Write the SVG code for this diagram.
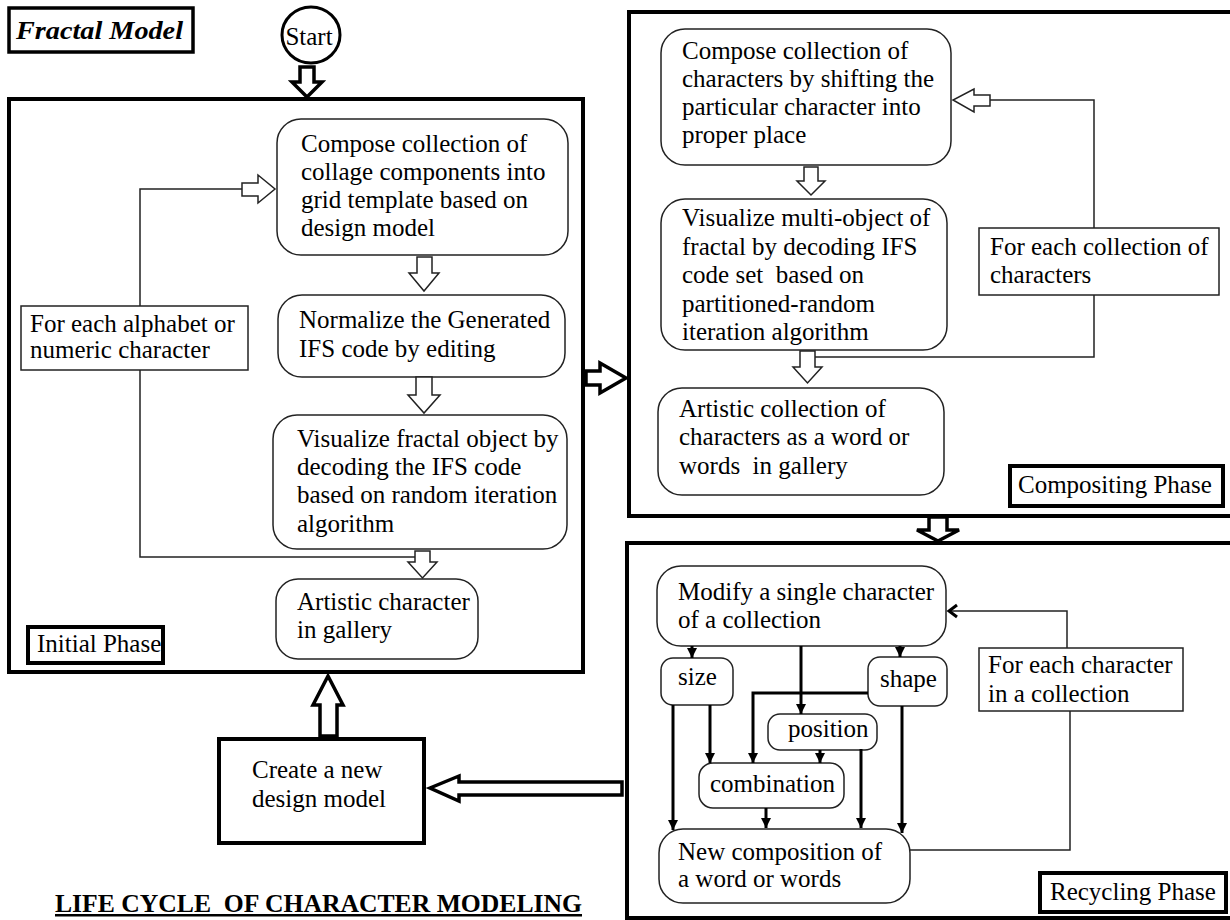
<svg xmlns="http://www.w3.org/2000/svg" width="1230" height="920" viewBox="0 0 1230 920">
<style>
  text { font-family: "Liberation Serif", "Times New Roman", serif; font-size: 25px; fill: #000; }
  .rb { fill: #fff; stroke: #222; stroke-width: 1.5; }
  .tb { fill: #fff; stroke: #222; stroke-width: 1.5; }
  .phase { fill: none; stroke: #000; stroke-width: 4; }
  .lbl { fill: #fff; stroke: #000; stroke-width: 4; }
  .thin { fill: none; stroke: #222; stroke-width: 1.5; }
  .thick { fill: none; stroke: #000; stroke-width: 3; }
  .hollow { fill: #fff; stroke: #222; stroke-width: 1.5; stroke-linejoin: miter; }
  .bighollow { fill: #fff; stroke: #000; stroke-width: 3.5; stroke-linejoin: miter; }
</style>
<defs>
  <marker id="ah" markerUnits="userSpaceOnUse" markerWidth="12" markerHeight="12" refX="10" refY="6" orient="auto">
    <path d="M0,1 L10,6 L0,11 z" fill="#000"/>
  </marker>
  <marker id="open" markerUnits="userSpaceOnUse" markerWidth="14" markerHeight="16" refX="11" refY="8" orient="auto">
    <path d="M3,2 L11,8 L3,14" fill="none" stroke="#000" stroke-width="3"/>
  </marker>
</defs>
<rect width="1230" height="920" fill="#fff"/>

<g id="title-fractal">
  <rect x="9" y="8" width="184" height="44" fill="#fff" stroke="#000" stroke-width="3.5"/>
  <text x="16" y="39" font-size="28" font-weight="bold" font-style="italic" textLength="167" lengthAdjust="spacingAndGlyphs">Fractal Model</text>
</g>

<g id="start">
  <ellipse cx="311" cy="35" rx="29" ry="28" fill="#fff" stroke="#000" stroke-width="3"/>
  <text x="309" y="45" text-anchor="middle">Start</text>
</g>

<g id="initial-phase">
  <rect class="phase" x="9" y="99" width="574" height="573"/>
</g>
<g id="initial-label">
  <rect class="lbl" x="28" y="627" width="135" height="36"/>
  <text x="37" y="652">Initial Phase</text>
</g>

<g id="compose-grid">
  <rect class="rb" x="277" y="119" width="291" height="136" rx="24"/>
  <text x="301" y="152">Compose collection of</text>
  <text x="301" y="180">collage components into</text>
  <text x="301" y="208">grid template based on</text>
  <text x="301" y="236">design model</text>
</g>
<g id="normalize">
  <rect class="rb" x="278" y="295" width="287" height="82" rx="24"/>
  <text x="299" y="328">Normalize the Generated</text>
  <text x="299" y="357">IFS code by editing</text>
</g>
<g id="visualize-fractal">
  <rect class="rb" x="273" y="415" width="294" height="134" rx="24"/>
  <text x="297" y="447">Visualize fractal object by</text>
  <text x="297" y="475">decoding the IFS code</text>
  <text x="297" y="503">based on random iteration</text>
  <text x="297" y="532">algorithm</text>
</g>
<g id="artistic-character">
  <rect class="rb" x="276" y="579" width="202" height="80" rx="22"/>
  <text x="297" y="610">Artistic character</text>
  <text x="297" y="638">in gallery</text>
</g>
<g id="for-each-alphabet">
  <rect class="tb" x="21" y="306" width="227" height="64"/>
  <text x="30" y="332">For each alphabet or</text>
  <text x="30" y="358">numeric character</text>
</g>

<g id="compositing-phase">
  <rect class="phase" x="629" y="12" width="610" height="504"/>
</g>
<g id="compositing-label">
  <rect class="lbl" x="1010" y="466" width="213" height="40"/>
  <text x="1018" y="493">Compositing Phase</text>
</g>
<g id="compose-characters">
  <rect class="rb" x="661" y="29" width="290" height="136" rx="24"/>
  <text x="682" y="59">Compose collection of</text>
  <text x="682" y="87">characters by shifting the</text>
  <text x="682" y="115">particular character into</text>
  <text x="682" y="143">proper place</text>
</g>
<g id="visualize-multi">
  <rect class="rb" x="661" y="199" width="286" height="151" rx="24"/>
  <text x="682" y="226">Visualize multi-object of</text>
  <text x="682" y="255">fractal by decoding IFS</text>
  <text x="682" y="283" xml:space="preserve">code set  based on</text>
  <text x="682" y="312">partitioned-random</text>
  <text x="682" y="340">iteration algorithm</text>
</g>
<g id="artistic-collection">
  <rect class="rb" x="658" y="388" width="286" height="107" rx="24"/>
  <text x="679" y="417">Artistic collection of</text>
  <text x="679" y="445">characters as a word or</text>
  <text x="679" y="474" xml:space="preserve">words  in gallery</text>
</g>
<g id="for-each-collection">
  <rect class="tb" x="979" y="228" width="240" height="67"/>
  <text x="990" y="255">For each collection of</text>
  <text x="990" y="283">characters</text>
</g>

<g id="recycling-phase">
  <rect class="phase" x="627" y="543" width="612" height="375"/>
</g>
<g id="recycling-label">
  <rect class="lbl" x="1040" y="873" width="186" height="39"/>
  <text x="1050" y="900">Recycling Phase</text>
</g>
<g id="modify">
  <rect class="rb" x="657" y="566" width="289" height="80" rx="24"/>
  <text x="678" y="600">Modify a single character</text>
  <text x="678" y="628">of a collection</text>
</g>
<g id="size">
  <rect class="rb" x="661" y="658" width="72" height="47" rx="12"/>
  <text x="678" y="685">size</text>
</g>
<g id="shape">
  <rect class="rb" x="868" y="657" width="79" height="49" rx="12"/>
  <text x="880" y="687">shape</text>
</g>
<g id="position">
  <rect class="rb" x="768" y="714" width="109" height="36" rx="12"/>
  <text x="788" y="737">position</text>
</g>
<g id="combination">
  <rect class="rb" x="699" y="763" width="145" height="45" rx="14"/>
  <text x="710" y="792">combination</text>
</g>
<g id="new-composition">
  <rect class="rb" x="659" y="829" width="251" height="74" rx="24"/>
  <text x="678" y="860">New composition of</text>
  <text x="678" y="887">a word or words</text>
</g>
<g id="for-each-character">
  <rect class="tb" x="979" y="648" width="204" height="63"/>
  <text x="988" y="673">For each character</text>
  <text x="988" y="702">in a collection</text>
</g>

<g id="create-new-design">
  <rect x="219" y="739" width="205" height="104" fill="#fff" stroke="#000" stroke-width="4"/>
  <text x="252" y="778">Create a new</text>
  <text x="252" y="807">design model</text>
</g>

<g id="life-cycle-title">
  <text x="55" y="912" font-size="26" font-weight="bold" text-decoration="underline" xml:space="preserve" textLength="527" lengthAdjust="spacingAndGlyphs">LIFE CYCLE  OF CHARACTER MODELING</text>
</g>

<g id="connectors">
  <polyline class="thin" points="140,306 140,189 243,189"/>
  <polyline class="thin" points="140,370 140,557 416,557"/>
  <polyline class="thin" points="1094,228 1094,100 989,100"/>
  <polyline class="thin" points="1094,295 1094,357 814,357"/>
  <polyline class="thin" points="1067,648 1067,611 949,611" marker-end="url(#open)"/>
  <polyline class="thin" points="1070,711 1070,850 910,850"/>

  <polygon class="hollow" points="242,183 258,183 258,175 275,189 258,203 258,196 242,196"/>
  <polygon class="hollow" points="417,257 432,257 432,273 439,273 424,291 409,273 417,273"/>
  <polygon class="hollow" points="416,377 432,377 432,395 440,395 424,413 408,395 416,395"/>
  <polygon class="hollow" points="415,551 430,551 430,562 437,562 422.5,578 408,562 415,562"/>
  <polygon class="hollow" points="990,95 974,95 974,89 953,100 974,112 974,106 990,106"/>
  <polygon class="hollow" points="804,167 818,167 818,181 825,181 811,195 797,181 804,181"/>
  <polygon class="hollow" points="800,351 815,351 815,367 822,367 807.5,383 793,367 800,367"/>

  <polygon class="bighollow" points="300,67 314,67 314,82 322,82 307,97 292,82 300,82"/>
  <polygon class="bighollow" points="586,371 600,371 600,363 626,378 600,393 600,385 586,385"/>
  <polygon class="bighollow" points="929,517 947,517 947,530 959,530 938,541 917,530 929,530"/>
  <polygon class="bighollow" points="320,736 337,736 337,705 343,705 328,676 313,705 320,705"/>
  <polygon class="bighollow" points="622,782 459,782 459,776 430,788 459,801 459,795 622,795"/>

  <line class="thick" x1="692" y1="646" x2="692" y2="658" marker-end="url(#ah)"/>
  <line class="thick" x1="900" y1="646" x2="900" y2="657" marker-end="url(#ah)"/>
  <line class="thick" x1="801" y1="646" x2="801" y2="714" marker-end="url(#ah)"/>
  <polyline class="thick" points="868,693 753,693 753,763" marker-end="url(#ah)"/>
  <line class="thick" x1="710" y1="705" x2="710" y2="763" marker-end="url(#ah)"/>
  <line class="thick" x1="673" y1="705" x2="673" y2="830" marker-end="url(#ah)"/>
  <line class="thick" x1="820" y1="750" x2="820" y2="763" marker-end="url(#ah)"/>
  <line class="thick" x1="861" y1="749" x2="861" y2="828" marker-end="url(#ah)"/>
  <line class="thick" x1="902" y1="706" x2="902" y2="833" marker-end="url(#ah)"/>
  <line class="thick" x1="766" y1="808" x2="766" y2="828" marker-end="url(#ah)"/>
</g>
</svg>
